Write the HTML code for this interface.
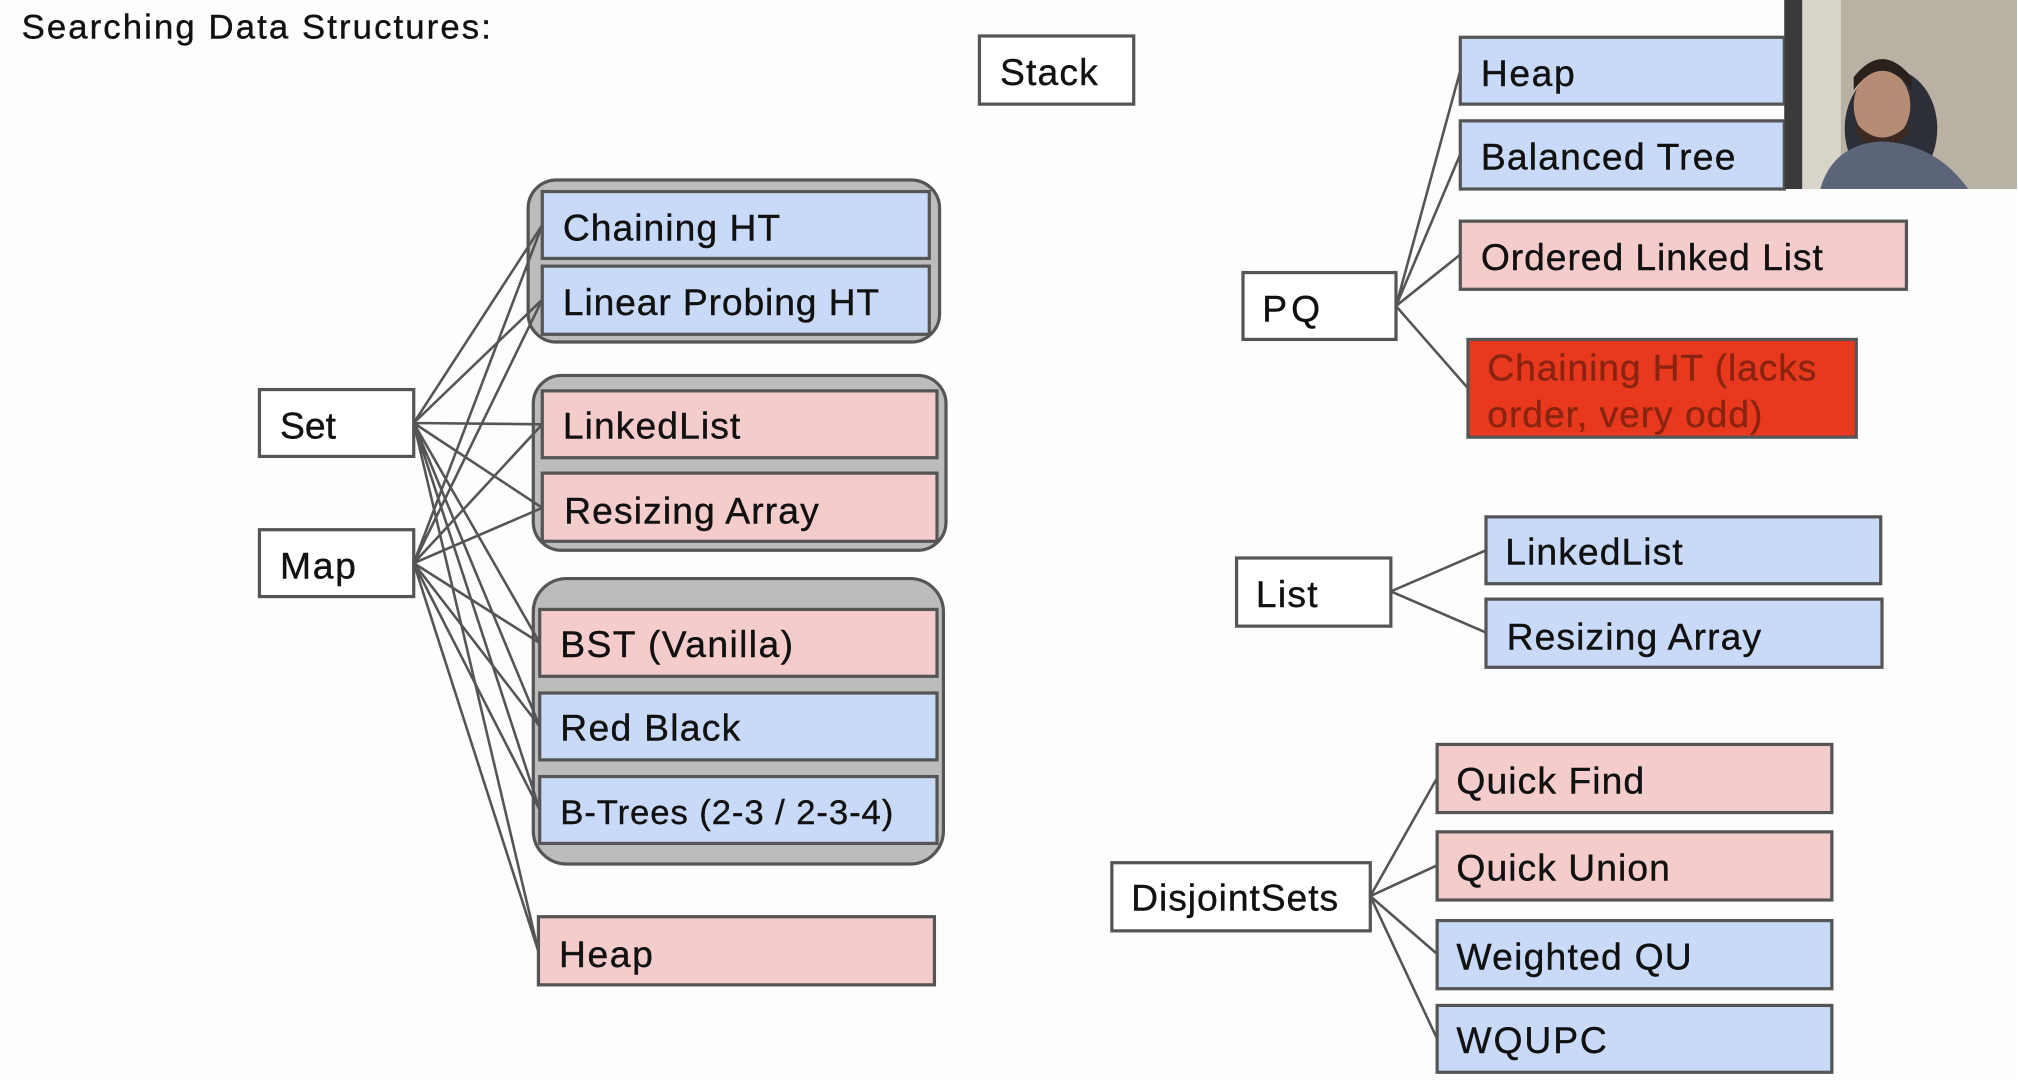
<!DOCTYPE html>
<html><head><meta charset="utf-8"><style>
html,body{margin:0;padding:0;background:#fff;}
svg{display:block;}
text{font-family:"Liberation Sans",Arial,sans-serif;fill:#111;stroke:#111;stroke-width:0.3;}
</style></head><body>
<svg width="2018" height="1080" viewBox="0 0 1568 840" xmlns="http://www.w3.org/2000/svg">
<rect width="1568" height="840" fill="#fdfdfd"/>
<text x="16" y="30" font-size="27" textLength="365">Searching Data Structures:</text>

<rect x="410" y="140" width="320" height="126" rx="22" fill="#bcbcbc" stroke="#555" stroke-width="2.5"/>
<rect x="414" y="292" width="321" height="136" rx="22" fill="#bcbcbc" stroke="#555" stroke-width="2.5"/>
<rect x="414" y="450" width="319" height="222" rx="26" fill="#bcbcbc" stroke="#555" stroke-width="2.5"/>

<g stroke="#555" stroke-width="2" fill="none">
<path d="M321 329 L421 175 M321 329 L421 233 M321 329 L421 330 M321 329 L421 395 M321 329 L419 500 M321 329 L419 565 M321 329 L419 630 M321 329 L418 740"/>
<path d="M321 438 L421 175 M321 438 L421 233 M321 438 L421 330 M321 438 L421 395 M321 438 L419 500 M321 438 L419 565 M321 438 L419 630 M321 438 L418 740"/>
<path d="M1085 238 L1135 55 M1085 238 L1135 120 M1085 238 L1135 198 M1085 238 L1141 302"/>
<path d="M1081 460 L1155 428 M1081 460 L1155 492"/>
<path d="M1065 697 L1117 605 M1065 697 L1117 673 M1065 697 L1117 742 M1065 697 L1117 808"/>
</g>

<g stroke="#555" stroke-width="2.5">
<rect x="761" y="28" width="120" height="53" fill="#fff"/>
<rect x="201" y="303" width="120" height="52" fill="#fff"/>
<rect x="201" y="412" width="120" height="52" fill="#fff"/>
<rect x="421" y="149" width="301" height="52" fill="#c9daf8"/>
<rect x="421" y="207" width="301" height="53" fill="#c9daf8"/>
<rect x="421" y="304" width="307" height="52" fill="#f4cccc"/>
<rect x="421" y="368" width="307" height="53" fill="#f4cccc"/>
<rect x="419" y="474" width="309" height="52" fill="#f4cccc"/>
<rect x="419" y="539" width="309" height="52" fill="#c9daf8"/>
<rect x="419" y="604" width="309" height="52" fill="#c9daf8"/>
<rect x="418" y="713" width="308" height="53" fill="#f4cccc"/>
<rect x="966" y="212" width="119" height="52" fill="#fff"/>
<rect x="1135" y="29" width="252" height="52" fill="#c9daf8"/>
<rect x="1135" y="94" width="252" height="53" fill="#c9daf8"/>
<rect x="1135" y="172" width="347" height="53" fill="#f4cccc"/>
<rect x="1141" y="264" width="302" height="76" fill="#e8391e"/>
<rect x="961" y="434" width="120" height="53" fill="#fff"/>
<rect x="1155" y="402" width="307" height="52" fill="#c9daf8"/>
<rect x="1155" y="466" width="308" height="53" fill="#c9daf8"/>
<rect x="864" y="671" width="201" height="53" fill="#fff"/>
<rect x="1117" y="579" width="307" height="53" fill="#f4cccc"/>
<rect x="1117" y="647" width="307" height="53" fill="#f4cccc"/>
<rect x="1117" y="716" width="307" height="53" fill="#c9daf8"/>
<rect x="1117" y="782" width="307" height="52" fill="#c9daf8"/>
</g>

<g font-size="29">
<text x="777" y="66" textLength="76">Stack</text>
<text x="217" y="341">Set</text>
<text x="217" y="450" textLength="59">Map</text>
<text x="437" y="187" textLength="169">Chaining HT</text>
<text x="437" y="245" textLength="246">Linear Probing HT</text>
<text x="437" y="341" textLength="138">LinkedList</text>
<text x="438" y="407" textLength="198">Resizing Array</text>
<text x="435" y="511" textLength="181">BST (Vanilla)</text>
<text x="435" y="576" textLength="140">Red Black</text>
<text x="435" y="641" font-size="27" textLength="259">B-Trees (2-3 / 2-3-4)</text>
<text x="434" y="752" textLength="73">Heap</text>
<text x="981" y="250" textLength="45">PQ</text>
<text x="1151" y="67" textLength="73">Heap</text>
<text x="1151" y="132" textLength="198">Balanced Tree</text>
<text x="1151" y="210" textLength="266">Ordered Linked List</text>
<text x="1156" y="296" style="fill:#8a2410;stroke:#8a2410" textLength="256">Chaining HT (lacks</text>
<text x="1156" y="332" style="fill:#8a2410;stroke:#8a2410" textLength="214">order, very odd)</text>
<text x="976" y="472" textLength="48">List</text>
<text x="1170" y="439" textLength="138">LinkedList</text>
<text x="1171" y="505" textLength="198">Resizing Array</text>
<text x="879" y="708" textLength="161">DisjointSets</text>
<text x="1132" y="617" textLength="146">Quick Find</text>
<text x="1132" y="685" textLength="166">Quick Union</text>
<text x="1132" y="754" textLength="183">Weighted QU</text>
<text x="1132" y="819" textLength="117">WQUPC</text>
</g>

<rect x="1387" y="0" width="181" height="147" fill="#b9b2a4"/>
<rect x="1387" y="0" width="14" height="147" fill="#3a3a3a"/>
<rect x="1401" y="0" width="30" height="147" fill="#d9d4c8"/>
<ellipse cx="1470" cy="100" rx="36" ry="46" fill="#2c2f38"/>
<ellipse cx="1463" cy="82" rx="22" ry="28" fill="#b58c74"/>
<path d="M1441 70 Q1463 40 1486 70 L1486 60 Q1463 32 1441 60 Z" fill="#2a211c"/>
<path d="M1443 96 Q1463 118 1484 96 L1484 104 Q1463 124 1443 104 Z" fill="#3a2a22"/>
<path d="M1415 147 Q1425 112 1463 110 Q1505 112 1530 147 Z" fill="#5b6478"/>
</svg>
</body></html>
